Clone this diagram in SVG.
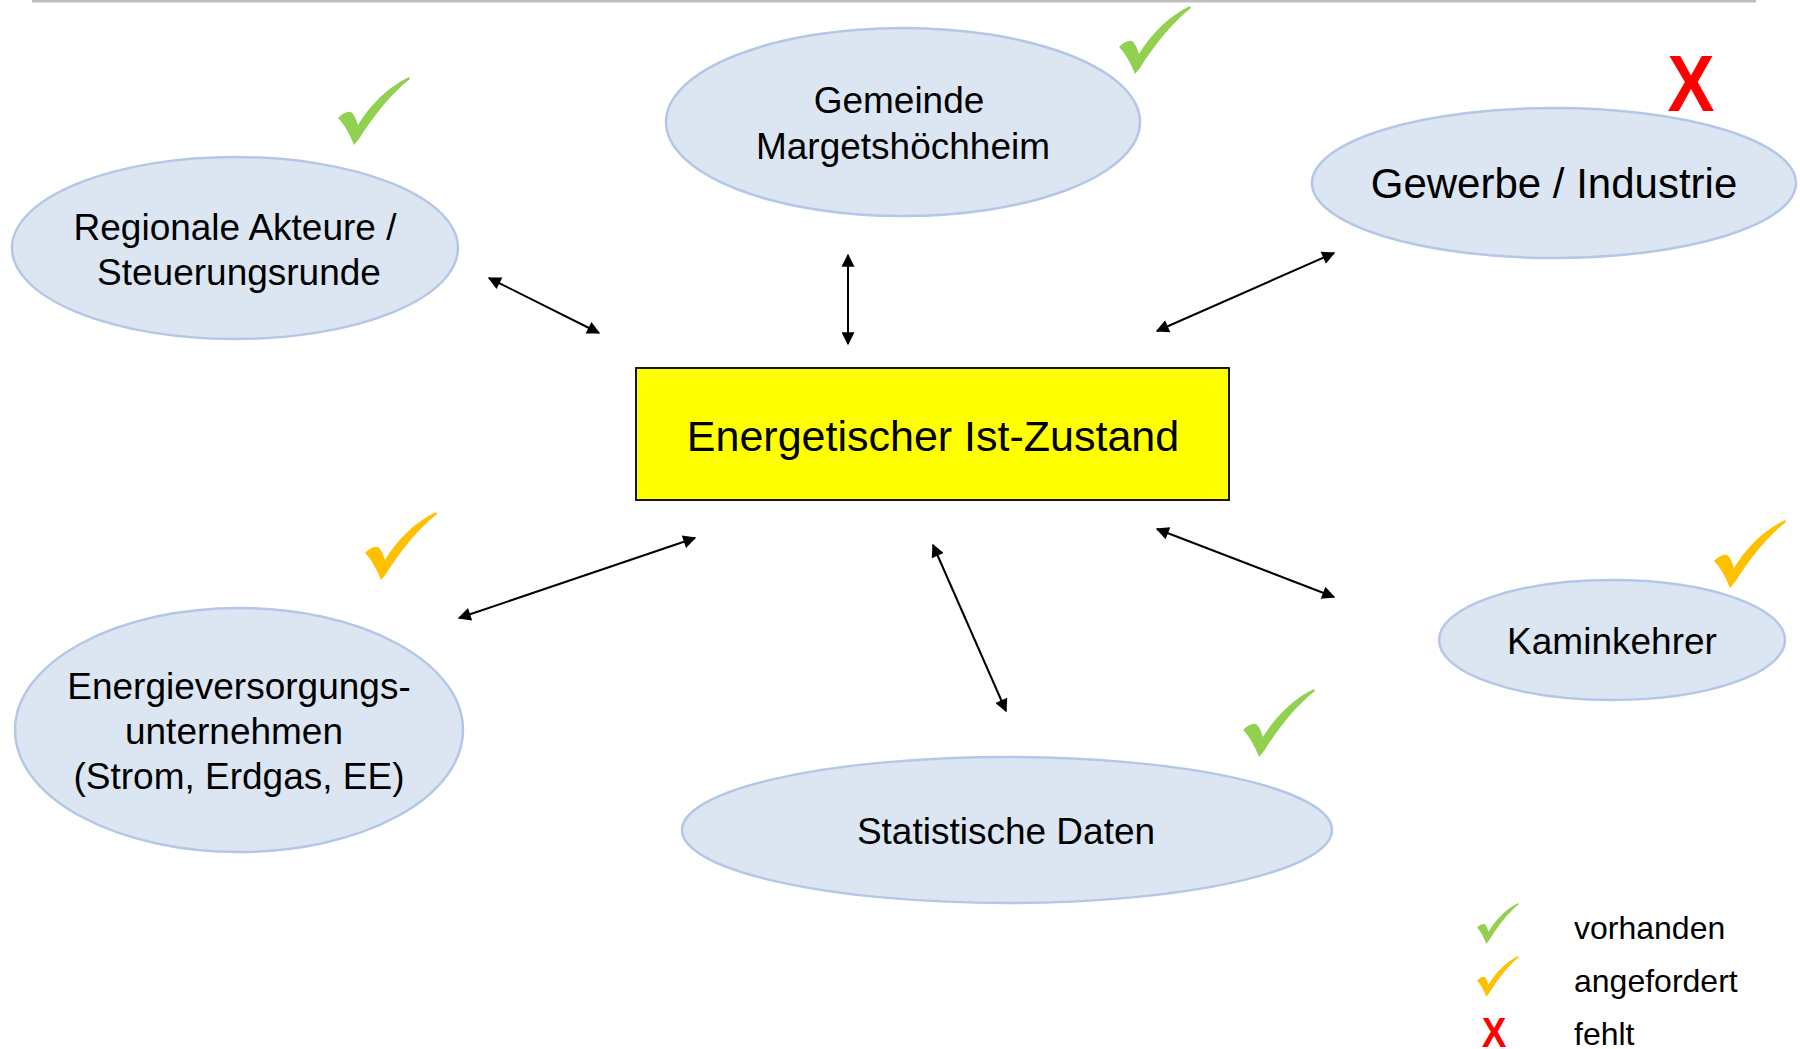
<svg xmlns="http://www.w3.org/2000/svg" width="1800" height="1049" viewBox="0 0 1800 1049">
<style>
.node ellipse{fill:#dce6f2;stroke:#b4c7e7;stroke-width:2.5}
.t{font-family:"Liberation Sans",Arial,sans-serif;fill:#000;text-anchor:middle}
.lt{font-family:"Liberation Sans",Arial,sans-serif;fill:#000;font-size:32px}
.green{fill:#92d050}
.orange{fill:#ffc000}
.x{font-family:"Liberation Sans",Arial,sans-serif;font-weight:bold;fill:#ff0000;text-anchor:middle}
.conn line{stroke:#000;stroke-width:2;marker-start:url(#ah);marker-end:url(#ah)}
</style>
<defs>
<marker id="ah" viewBox="0 0 10 10" refX="9" refY="5" markerWidth="16" markerHeight="13" markerUnits="userSpaceOnUse" orient="auto-start-reverse">
<path d="M0,0 L10,5 L0,10 Z" fill="#000"/>
</marker>
<path id="chk" d="M0,41 C4,37 9,34 13,35 C16,37 18,42 20,48 C32,28 50,10 71,0 L72,2 C54,16 36,38 21,62 L16,68 C12,58 7,48 0,41 Z"/>
</defs>
<line x1="32" y1="1" x2="1756" y2="1" stroke="#bfbfbf" stroke-width="3"/>
<g id="connectors" class="conn">
<line x1="489" y1="278" x2="599" y2="333"/>
<line x1="848" y1="255" x2="848" y2="344"/>
<line x1="1157" y1="331" x2="1334" y2="253"/>
<line x1="459" y1="618" x2="695" y2="538"/>
<line x1="933" y1="545" x2="1006" y2="711"/>
<line x1="1157" y1="529" x2="1334" y2="597"/>
</g>
<g id="ist-zustand">
<rect x="636" y="368" width="593" height="132" fill="#ffff00" stroke="#000" stroke-width="1.8"/>
<text class="t" x="933" y="451" font-size="43">Energetischer Ist-Zustand</text>
</g>
<g id="regionale" class="node">
<ellipse cx="235" cy="248" rx="223" ry="91"/>
<text class="t" x="235" y="240" font-size="37">Regionale Akteure /</text>
<text class="t" x="239" y="285" font-size="37">Steuerungsrunde</text>
<use href="#chk" class="green" x="338" y="77"/>
</g>
<g id="gemeinde" class="node">
<ellipse cx="903" cy="122" rx="237" ry="94"/>
<text class="t" x="899" y="113" font-size="37">Gemeinde</text>
<text class="t" x="903" y="159" font-size="37">Margetshöchheim</text>
<use href="#chk" class="green" x="1119" y="6"/>
</g>
<g id="gewerbe" class="node">
<ellipse cx="1554" cy="183" rx="242" ry="75"/>
<text class="t" x="1554" y="198" font-size="42">Gewerbe / Industrie</text>
<text class="x" font-size="80" transform="translate(1691,111) scale(0.88,1)">X</text>
</g>
<g id="energieversorger" class="node">
<ellipse cx="239" cy="730" rx="224" ry="122"/>
<text class="t" x="239" y="699" font-size="37">Energieversorgungs-</text>
<text class="t" x="234" y="744" font-size="37">unternehmen</text>
<text class="t" x="239" y="789" font-size="37">(Strom, Erdgas, EE)</text>
<use href="#chk" class="orange" x="365" y="512"/>
</g>
<g id="kaminkehrer" class="node">
<ellipse cx="1612" cy="640" rx="173" ry="60"/>
<text class="t" x="1612" y="654" font-size="37">Kaminkehrer</text>
<use href="#chk" class="orange" x="1714" y="520"/>
</g>
<g id="statistik" class="node">
<ellipse cx="1007" cy="830" rx="325" ry="73"/>
<text class="t" x="1006" y="844" font-size="37">Statistische Daten</text>
<use href="#chk" class="green" x="1243" y="689"/>
</g>
<g id="legende">
<use href="#chk" class="green" transform="translate(1477,903) scale(0.58,0.6)"/>
<text class="lt" x="1574" y="939">vorhanden</text>
<use href="#chk" class="orange" transform="translate(1477,956) scale(0.58,0.6)"/>
<text class="lt" x="1574" y="992">angefordert</text>
<text class="x" font-size="42" transform="translate(1494,1047) scale(0.88,1)">X</text>
<text class="lt" x="1574" y="1045">fehlt</text>
</g>
</svg>
